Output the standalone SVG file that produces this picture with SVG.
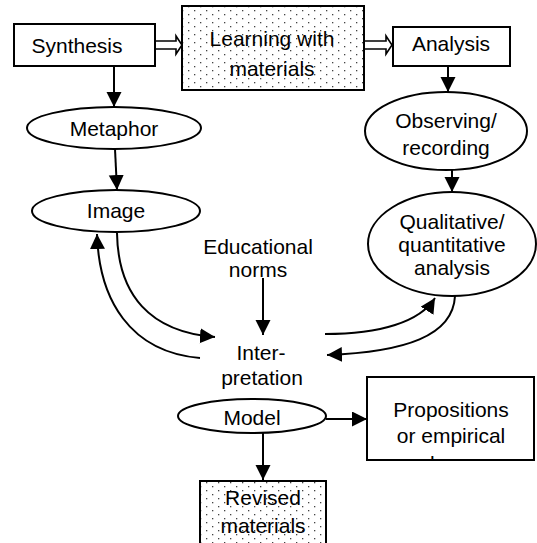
<svg xmlns="http://www.w3.org/2000/svg" width="537" height="543" viewBox="0 0 537 543">
<defs>
<style>
.box{fill:#fff;stroke:#000;stroke-width:2}
.dot{fill:url(#dots);stroke:#000;stroke-width:2}
.ell{fill:#fff;stroke:#000;stroke-width:2}
.ln{fill:none;stroke:#000;stroke-width:2;marker-end:url(#ah)}
.hol{fill:#fff;stroke:#000;stroke-width:1.6}
text{font-family:"Liberation Sans",Arial,sans-serif;font-size:21px;fill:#000;text-anchor:middle}
</style>
<pattern id="dots" width="12" height="8" patternUnits="userSpaceOnUse">
<rect width="12" height="8" fill="#fff"/>
<rect x="2" y="2" width="1.3" height="1.3" fill="#444"/>
<rect x="8" y="6" width="1.3" height="1.3" fill="#444"/>
</pattern>
<marker id="ah" markerUnits="userSpaceOnUse" markerWidth="16" markerHeight="16" refX="15" refY="7.5" orient="auto">
<path d="M0,0 L15,7.5 L0,15 z" fill="#000"/>
</marker>
<clipPath id="propclip"><rect x="368" y="378" width="165" height="81"/></clipPath>
</defs>

<g id="connectors">
<polygon class="hol" points="155,41 176,41 176,36 182,45 176,54 176,49 155,49"/>
<polygon class="hol" points="364,41 386,41 386,36 392,45 386,54 386,49 364,49"/>
<line class="ln" x1="114" y1="66" x2="114" y2="107"/>
<line class="ln" x1="115" y1="149" x2="117" y2="190"/>
<line class="ln" x1="448" y1="66" x2="448" y2="92"/>
<line class="ln" x1="452" y1="170" x2="452" y2="192"/>
<line class="ln" x1="263" y1="278" x2="263" y2="335"/>
<path class="ln" d="M117,233 C118,295 150,332 215,337"/>
<path class="ln" d="M200,358 C130,352 99,300 97,234"/>
<path class="ln" d="M325,334 C380,334 420,322 435,298"/>
<path class="ln" d="M455,296 C453,336 405,352 327,355"/>
<line class="ln" x1="326" y1="419" x2="367" y2="419"/>
<line class="ln" x1="263" y1="433" x2="263" y2="480"/>
</g>

<g id="synthesis">
<rect class="box" x="14" y="24" width="141" height="42"/>
<text x="77" y="53">Synthesis</text>
</g>
<g id="learning">
<rect class="dot" x="182" y="6" width="182" height="84"/>
<text x="272" y="46">Learning with</text>
<text x="272" y="76">materials</text>
</g>
<g id="analysis">
<rect class="box" x="393" y="27" width="117" height="39"/>
<text x="451" y="51">Analysis</text>
</g>
<g id="metaphor">
<ellipse class="ell" cx="114" cy="128" rx="87" ry="21"/>
<text x="114" y="136">Metaphor</text>
</g>
<g id="image">
<ellipse class="ell" cx="116" cy="211" rx="84" ry="21"/>
<text x="116" y="218">Image</text>
</g>
<g id="observing">
<ellipse class="ell" cx="446" cy="131" rx="81" ry="39"/>
<text x="446" y="128">Observing/</text>
<text x="446" y="155">recording</text>
</g>
<g id="qualitative">
<ellipse class="ell" cx="452" cy="244" rx="84" ry="52"/>
<text x="452" y="229">Qualitative/</text>
<text x="452" y="252">quantitative</text>
<text x="452" y="275">analysis</text>
</g>
<g id="norms">
<text x="258" y="254">Educational</text>
<text x="258" y="277">norms</text>
</g>
<g id="interpretation">
<text x="261" y="360">Inter-</text>
<text x="262" y="385">pretation</text>
</g>
<g id="model">
<ellipse class="ell" cx="252" cy="416" rx="74" ry="17"/>
<text x="252" y="425">Model</text>
</g>
<g id="propositions">
<rect class="box" x="367" y="377" width="167" height="83"/>
<g clip-path="url(#propclip)">
<text x="451" y="417">Propositions</text>
<text x="451" y="443">or empirical</text>
<text x="451" y="471">laws</text>
</g>
</g>
<g id="revised">
<rect class="dot" x="200" y="481" width="126" height="70"/>
<text x="263" y="505">Revised</text>
<text x="263" y="533">materials</text>
</g>
</svg>
